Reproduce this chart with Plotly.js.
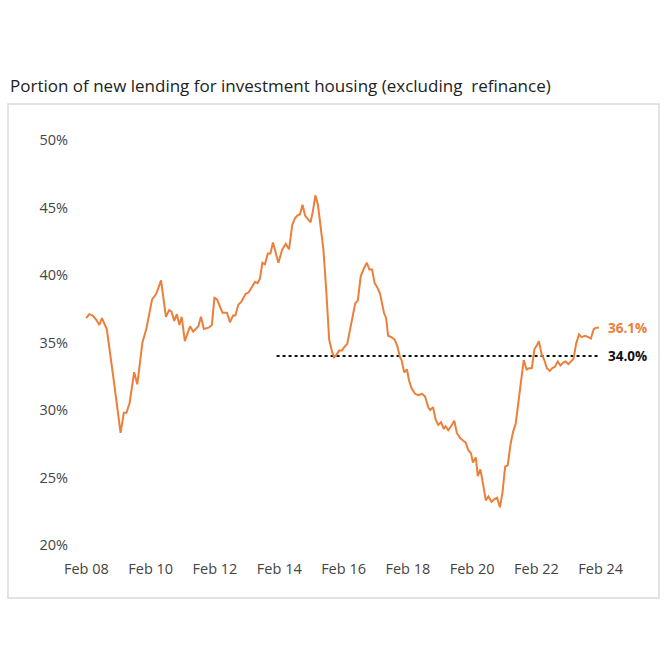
<!DOCTYPE html>
<html>
<head>
<meta charset="utf-8">
<script src="https://cdn.plot.ly/plotly-3.0.1.min.js"></script>
<style>
  html, body { margin: 0; padding: 0; background: #ffffff; }
  #chart { width: 668px; height: 668px; }
</style>
</head>
<body>
<div id="chart"></div>
<script>
// Decimal-year positions of the monthly series
const years = [
  2008.08, 2008.18, 2008.28, 2008.39, 2008.49, 2008.57, 2008.72, 2008.82, 2008.92, 2009.03,
  2009.15, 2009.25, 2009.33, 2009.43, 2009.50, 2009.57, 2009.67, 2009.83, 2009.95, 2010.13,
  2010.26, 2010.41, 2010.56, 2010.66, 2010.73, 2010.82, 2010.90, 2010.98, 2011.05, 2011.15,
  2011.31, 2011.41, 2011.57, 2011.65, 2011.74, 2011.89, 2011.99, 2012.07, 2012.15, 2012.32,
  2012.46, 2012.55, 2012.65, 2012.72, 2012.81, 2012.90, 2013.04, 2013.13, 2013.23, 2013.33,
  2013.41, 2013.48, 2013.56, 2013.64, 2013.73, 2013.81, 2013.89, 2014.06, 2014.18, 2014.29,
  2014.39, 2014.49, 2014.57, 2014.65, 2014.73, 2014.81, 2014.89, 2014.96, 2015.06, 2015.13,
  2015.21, 2015.29, 2015.37, 2015.46, 2015.54, 2015.60, 2015.64, 2015.73, 2015.79, 2015.87,
  2015.95, 2016.04, 2016.12, 2016.20, 2016.29, 2016.37, 2016.45, 2016.53, 2016.62, 2016.72,
  2016.81, 2016.89, 2016.97, 2017.05, 2017.13, 2017.22, 2017.28, 2017.34, 2017.41, 2017.47,
  2017.57, 2017.68, 2017.76, 2017.84, 2017.89, 2017.97, 2018.06, 2018.12, 2018.20, 2018.31,
  2018.41, 2018.53, 2018.62, 2018.72, 2018.78, 2018.87, 2018.95, 2019.03, 2019.12, 2019.20,
  2019.26, 2019.34, 2019.43, 2019.53, 2019.61, 2019.72, 2019.82, 2019.88, 2019.97, 2020.05,
  2020.11, 2020.20, 2020.26, 2020.34, 2020.42, 2020.51, 2020.59, 2020.69, 2020.78, 2020.86,
  2020.95, 2021.03, 2021.11, 2021.19, 2021.28, 2021.36, 2021.44, 2021.53, 2021.62, 2021.69,
  2021.78, 2021.86, 2021.94, 2022.02, 2022.10, 2022.16, 2022.25, 2022.33, 2022.41, 2022.50,
  2022.58, 2022.66, 2022.75, 2022.83, 2022.91, 2022.99, 2023.08, 2023.16, 2023.24, 2023.32,
  2023.41, 2023.49, 2023.60, 2023.70, 2023.78, 2023.87, 2023.95, 2024.03
];
// Portion of new lending for investment housing, %
const share = [
  36.8, 37.1, 37.0, 36.7, 36.3, 36.8, 36.0, 34.4, 32.5, 30.5,
  28.3, 29.8, 29.8, 30.5, 31.6, 32.8, 31.9, 35.0, 36.0, 38.2,
  38.6, 39.6, 36.9, 37.4, 37.3, 36.6, 37.1, 36.3, 36.9, 35.1,
  36.2, 35.8, 36.2, 36.9, 36.0, 36.1, 36.3, 38.3, 38.2, 37.2,
  37.2, 36.5, 37.0, 37.0, 37.8, 38.0, 38.6, 38.7, 39.1, 39.5,
  39.4, 39.7, 40.9, 40.8, 41.6, 41.6, 42.4, 40.9, 41.9, 42.3,
  41.9, 43.7, 44.2, 44.4, 44.5, 45.2, 44.4, 44.2, 43.9, 44.7,
  45.9, 45.2, 43.6, 41.9, 39.1, 36.9, 35.2, 34.3, 33.9, 34.1,
  34.4, 34.4, 34.7, 34.9, 35.9, 36.9, 37.9, 38.1, 39.9, 40.5,
  40.9, 40.4, 40.4, 39.4, 39.1, 38.6, 37.8, 37.2, 36.8, 35.5,
  35.4, 35.2, 34.7, 33.9, 33.7, 32.8, 33.0, 32.2, 31.6, 31.2,
  31.1, 31.2, 31.0, 30.2, 30.0, 30.2, 29.3, 28.9, 29.1, 28.6,
  28.8, 28.5, 28.8, 29.2, 28.3, 27.9, 27.7, 27.6, 27.0, 26.8,
  26.1, 26.5, 25.1, 25.6, 24.6, 23.3, 23.6, 23.2, 23.4, 23.5,
  22.8, 23.9, 25.8, 25.9, 27.5, 28.4, 29.0, 30.8, 32.4, 33.7,
  33.0, 33.1, 33.1, 34.5, 34.8, 35.1, 34.1, 33.7, 33.1, 32.9,
  33.1, 33.2, 33.6, 33.3, 33.5, 33.6, 33.4, 33.6, 33.8, 34.9,
  35.6, 35.4, 35.5, 35.4, 35.3, 36.0, 36.1, 36.1
];
// 10-year average reference line
const avgYears = [2014.0, 2024.0];
const avgValue = 34.0;
const latestLabel = "36.1%";
const avgLabel = "34.0%";
const titleText = "Portion of new lending for investment housing (excluding  refinance)";
const xTickStart = "2008-02-01";

function yearToDate(y) {
  const yr = Math.floor(y);
  const start = Date.UTC(yr, 0, 1);
  const end = Date.UTC(yr + 1, 0, 1);
  const d = new Date(start + (y - yr) * (end - start));
  return d.toISOString().slice(0, 10);
}

const xDates = years.map(yearToDate);
const avgDates = avgYears.map(yearToDate);

const ORANGE = "#EC7F3A";
const FONT = "Open Sans, sans-serif";

const traces = [
  {
    x: avgDates, y: [avgValue, avgValue],
    type: "scatter", mode: "lines",
    line: { color: "#111111", width: 2, dash: "dot" },
    hoverinfo: "skip", showlegend: false
  },
  {
    x: xDates, y: share,
    type: "scatter", mode: "lines",
    line: { color: ORANGE, width: 2 },
    showlegend: false
  }
];

const layout = {
  width: 668, height: 668,
  paper_bgcolor: "#ffffff", plot_bgcolor: "#ffffff",
  margin: { l: 75, r: 28, t: 125, b: 113 },
  font: { family: FONT, color: "#444444", size: 14 },
  title: {
    text: titleText,
    font: { family: FONT, size: 17, color: "#222222" },
    xref: "container", yref: "container",
    x: 10 / 668, xanchor: "left",
    y: 1 - 86 / 668, yanchor: "middle"
  },
  xaxis: {
    type: "date",
    range: [yearToDate(2007.732), yearToDate(2025.305)],
    tick0: xTickStart, dtick: "M24",
    tickformat: "%b %y",
    showgrid: false, zeroline: false, showline: false,
    ticks: "", ticklabelstandoff: 3,
    tickfont: { family: FONT, size: 14.5, color: "#444444" }
  },
  yaxis: {
    range: [19.26, 51.11],
    tick0: 20, dtick: 5,
    ticksuffix: "%",
    showgrid: false, zeroline: false, showline: false,
    ticks: "", ticklabelstandoff: 6,
    tickfont: { family: FONT, size: 14.5, color: "#444444" }
  },
  shapes: [
    {
      type: "rect", xref: "paper", yref: "paper",
      x0: (8 - 75) / 565, x1: (659 - 75) / 565,
      y0: (555 - 598) / 430, y1: (555 - 104) / 430,
      line: { color: "#dadada", width: 1.5 },
      fillcolor: "rgba(0,0,0,0)", layer: "below"
    }
  ],
  annotations: [
    {
      x: xDates[xDates.length - 1], y: share[share.length - 1],
      xref: "x", yref: "y", text: "<b>" + latestLabel + "</b>",
      showarrow: false, xanchor: "left", yanchor: "middle", xshift: 7,
      font: { family: FONT, size: 13.5, color: ORANGE }
    },
    {
      x: xDates[xDates.length - 1], y: avgValue,
      xref: "x", yref: "y", text: "<b>" + avgLabel + "</b>",
      showarrow: false, xanchor: "left", yanchor: "middle", xshift: 7,
      font: { family: FONT, size: 13.5, color: "#111111" }
    }
  ]
};

Plotly.newPlot("chart", traces, layout, { displayModeBar: false, staticPlot: true });
</script>
</body>
</html>
